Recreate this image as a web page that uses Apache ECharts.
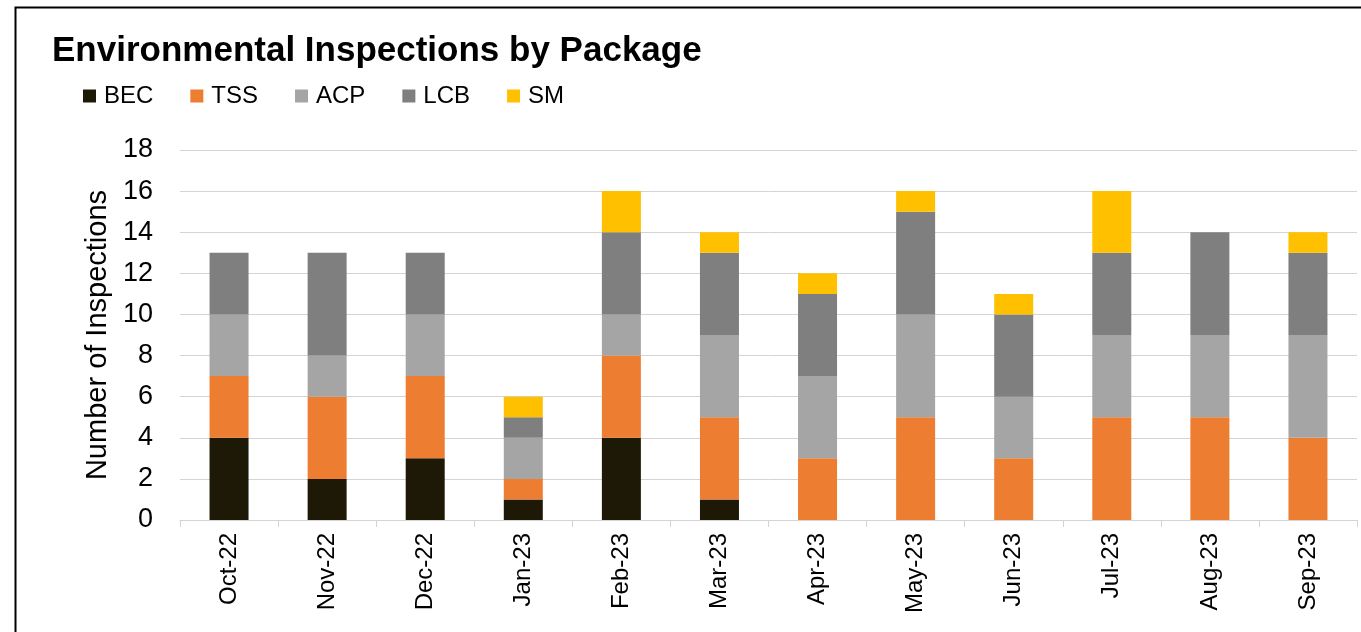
<!DOCTYPE html>
<html>
<head>
<meta charset="utf-8">
<script src="https://cdn.jsdelivr.net/npm/echarts@6/dist/echarts.min.js"></script>
<style>
html,body{margin:0;padding:0;background:#fff;}
#chart{width:1361px;height:632px;}
</style>
</head>
<body>
<div id="chart"></div>
<script>
var categories = ['Oct-22','Nov-22','Dec-22','Jan-23','Feb-23','Mar-23','Apr-23','May-23','Jun-23','Jul-23','Aug-23','Sep-23'];
var BEC = [4,2,3,1,4,1,0,0,0,0,0,0];
var TSS = [3,4,4,1,4,4,3,5,3,5,5,4];
var ACP = [3,2,3,2,2,4,4,5,3,4,4,5];
var LCB = [3,5,3,1,4,4,4,5,4,4,5,4];
var SM  = [0,0,0,1,2,1,1,1,1,3,0,1];
var yTicks = [0,2,4,6,8,10,12,14,16,18];

var seriesDefs = [
  {name:'BEC', data:BEC, color:'#1e1906'},
  {name:'TSS', data:TSS, color:'#ed7d31'},
  {name:'ACP', data:ACP, color:'#a5a5a5'},
  {name:'LCB', data:LCB, color:'#7f7f7f'},
  {name:'SM',  data:SM,  color:'#ffc000'}
];

var chart = echarts.init(document.getElementById('chart'), null, {renderer:'canvas'});
var font = 'Liberation Sans, Arial, Helvetica, sans-serif';
chart.setOption({
  backgroundColor:'#ffffff',
  animation:false,
  graphic:[{
    type:'rect', left:13, top:5, z:100,
    shape:{x:0,y:0,width:1400,height:700},
    style:{fill:'none', stroke:'#000', lineWidth:2}
  }],
  title:{
    text:'Environmental Inspections by Package',
    left:52, top:34, padding:0,
    textStyle:{fontFamily:font, fontSize:35, fontWeight:'bold', color:'#000'}
  },
  legend:{
    left:83, top:84, padding:0,
    itemWidth:13, itemHeight:13, itemGap:37,
    icon:'rect',
    textStyle:{fontFamily:font, fontSize:24, color:'#000', padding:[0,0,0,3]},
    data:seriesDefs.map(function(s){return s.name;})
  },
  grid:{left:180, right:4, top:150, bottom:112, containLabel:false},
  xAxis:{
    type:'category', data:categories,
    axisLine:{lineStyle:{color:'#d4d4d4', width:1}},
    axisTick:{show:true, length:7, alignWithLabel:false, lineStyle:{color:'#d4d4d4'}},
    axisLabel:{rotate:90, margin:13, fontFamily:font, fontSize:24, color:'#000', interval:0}
  },
  yAxis:{
    type:'value', min:yTicks[0], max:yTicks[yTicks.length-1], interval:2,
    name:'Number of Inspections', nameLocation:'middle', nameGap:63,
    nameTextStyle:{fontFamily:font, fontSize:29, color:'#000'},
    axisLine:{show:false}, axisTick:{show:false},
    axisLabel:{margin:27, fontFamily:font, fontSize:27, color:'#000'},
    splitLine:{lineStyle:{color:'#d4d4d4', width:1}}
  },
  series:seriesDefs.map(function(s){
    return {name:s.name, type:'bar', stack:'total', data:s.data, barWidth:39,
      itemStyle:{color:s.color}};
  })
});
</script>
</body>
</html>
